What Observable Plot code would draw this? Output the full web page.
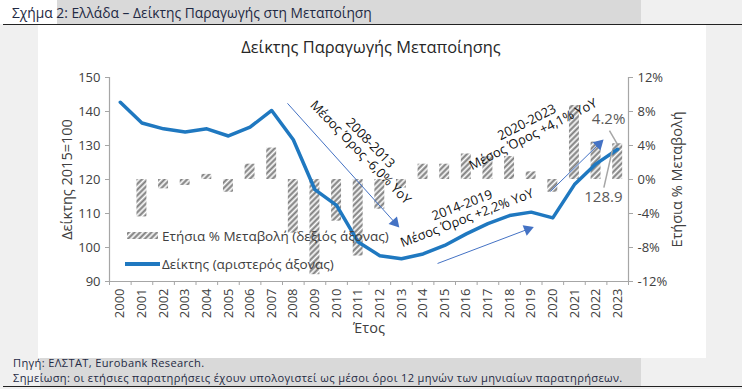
<!DOCTYPE html>
<html><head><meta charset="utf-8">
<script src="https://cdn.jsdelivr.net/npm/d3@7"></script>
<script src="https://cdn.jsdelivr.net/npm/@observablehq/plot@0.6"></script>
<style>
body{margin:0;font-family:"Open Sans",sans-serif;}
#root{position:relative;width:742px;height:389px;overflow:hidden;background:#f0f0f0;}
.abs{position:absolute;}
.lg{position:absolute;font-size:13.5px;color:#404040;white-space:nowrap;line-height:16px;}
.ft{position:absolute;left:13px;font-size:11.1px;letter-spacing:0.35px;line-height:14px;color:#1f2a44;white-space:nowrap;}
</style></head><body>
<svg width="0" height="0" style="position:absolute"><defs>
<pattern id="hatch" patternUnits="userSpaceOnUse" width="4" height="4" patternTransform="rotate(45)">
<rect width="4" height="4" fill="#ffffff"/><line x1="1.5" y1="0" x2="1.5" y2="4" stroke="#7a7a7a" stroke-width="2.1"/>
</pattern></defs></svg>
<div id="root">
 <div class="abs" style="left:0;top:0;width:57px;height:24px;background:#ffffff"></div>
 <div class="abs" style="left:57px;top:0;width:584px;height:24px;background:#d9d9d9"></div>
 <div class="abs" style="left:3px;top:24px;width:739px;height:1px;background:#222"></div>
 <div class="abs" style="left:12px;top:3px;font-size:13.8px;color:#1f2a44;white-space:nowrap">Σχήμα 2: Ελλάδα – Δείκτης Παραγωγής στη Μεταποίηση</div>
 <div class="abs" style="left:38px;top:25px;width:668px;height:333px;background:#ffffff"></div>
 <div class="abs" style="left:40px;top:358px;width:601px;height:28px;background:#d9d9d9"></div>
 <div class="abs" style="left:3px;top:386px;width:739px;height:1px;background:#222"></div>
 <div class="ft" style="top:356px">Πηγή: ΕΛΣΤΑΤ, Eurobank Research.</div>
 <div class="ft" style="top:371px">Σημείωση: οι ετήσιες παρατηρήσεις έχουν υπολογιστεί ως μέσοι όροι 12 μηνών των μηνιαίων παρατηρήσεων.</div>
 <div class="abs" style="left:0;top:35px;width:742px;text-align:center;font-size:16.4px;color:#262626;">Δείκτης Παραγωγής Μεταποίησης</div>
 <div id="chart" class="abs" style="left:0;top:25px"></div>
 <svg class="abs" style="left:127px;top:232px" width="31" height="7"><rect width="31" height="7" fill="url(#hatch)"/></svg>
 <div class="lg" style="left:162px;top:228px">Ετήσια % Μεταβολή (δεξιός άξονας)</div>
 <div class="abs" style="left:125px;top:262px;width:35px;height:3.5px;background:#1f78c0"></div>
 <div class="lg" style="left:162px;top:256px">Δείκτης (αριστερός άξονας)</div>
</div>
<script>
const years = [2000,2001,2002,2003,2004,2005,2006,2007,2008,2009,2010,2011,2012,2013,2014,2015,2016,2017,2018,2019,2020,2021,2022,2023];
const indexValues = [142.7,136.6,134.9,134.0,134.9,132.8,135.4,140.3,131.7,117.0,112.4,101.6,97.6,96.7,98.1,100.6,104.0,107.0,109.4,110.4,108.7,118.5,124.6,128.9];
const yoyValues = [null,-4.4,-1.1,-0.7,0.6,-1.5,1.8,3.7,-6.3,-11.2,-4.9,-9.0,-3.5,-1.0,1.8,1.8,3.0,2.7,2.7,0.9,-1.5,8.7,4.4,4.2];
const leftTicks = [90,100,110,120,130,140,150];
const rightTicks = [-12,-8,-4,0,4,8,12];
const leftDomain = [90,150];
const rightDomain = [-12,12];
const yearDomain = [1999.5,2023.5];
const annotations = [
  {x: 2011.34, y: 129.4, rotate: 46, text: "2008-2013\nΜέσος Όρος -6,0% YoY"},
  {x: 2015.92, y: 110.6, rotate: -21, text: "2014-2019\nΜέσος Όρος +2,2% YoY"},
  {x: 2018.94, y: 135.1, rotate: -27, text: "2020-2023\nΜέσος Όρος +4,1% YoY"}
];
const arrows = [
  {x1: 2007.73, y1: 142.4, x2: 2012.70, y2: 107.3, angle: 138},
  {x1: 2014.67, y1: 95.3, x2: 2018.84, y2: 105.35, angle: 69},
  {x1: 2019.89, y1: 116.5, x2: 2022.13, y2: 130.4, angle: 46}
];
const callouts = [
  {x: 2022.58, y: 137.6, text: "4.2%", lx1: 2022.62, ly1: 134.4, lx2: 2022.99, ly2: 130.3},
  {x: 2022.34, y: 114.7, text: "128.9", lx1: 2022.36, ly1: 117.6, lx2: 2022.75, ly2: 128.5}
];

// map right-axis % onto left-axis units
const k = (leftDomain[1]-leftDomain[0])/(rightDomain[1]-rightDomain[0]);
const mid = (leftDomain[0]+leftDomain[1])/2;
const toLeft = p => mid + p*k;

const lineData = years.map((y,i)=>({year:y, v:indexValues[i]}));
const barData = years.map((y,i)=>({year:y, p:yoyValues[i]})).filter(d=>d.p!=null);
const boundaries = years.map(y=>y-0.5).concat([years[years.length-1]+0.5]);

const plot = Plot.plot({
  width: 742, height: 333,
  marginTop: 52, marginBottom: 77, marginLeft: 109, marginRight: 114,
  style: {background:"transparent", fontFamily:"Open Sans, sans-serif"},
  x: {domain: yearDomain, axis: null},
  y: {domain: leftDomain, axis: null},
  marks: [
    Plot.rect(barData, {x1: d=>d.year-0.23, x2: d=>d.year+0.23, y1: toLeft(0), y2: d=>toLeft(d.p), fill: "url(#hatch)"}),
    Plot.ruleY([leftDomain[0]], {stroke:"#a6a6a6", strokeWidth:1.2}),
    Plot.ruleX(yearDomain, {stroke:"#a6a6a6", strokeWidth:1.2}),
    Plot.axisY(leftTicks, {anchor:"left", tickSize:4, tickPadding:5, stroke:"#a6a6a6", fill:"#404040", fontSize:13, label:null}),
    Plot.axisY(rightTicks.map(toLeft), {anchor:"right", tickSize:4, tickPadding:5, stroke:"#a6a6a6", fill:"#404040", fontSize:13, label:null,
      tickFormat: d => `${Math.round((d-mid)/k)}%`}),
    Plot.axisX(years, {anchor:"bottom", tickSize:0, tickPadding:7, tickRotate:-90, fill:"#404040", fontSize:13, label:null, tickFormat: d=>String(d)}),
    Plot.axisX(boundaries, {anchor:"bottom", tickSize:4, stroke:"#a6a6a6", tickFormat: ()=>"", label:null}),
    Plot.text(["Δείκτης 2015=100"], {frameAnchor:"left", dx:-42, rotate:-90, textAnchor:"middle", lineAnchor:"middle", fontSize:14.5, fill:"#404040"}),
    Plot.text(["Ετήσια % Μεταβολή"], {frameAnchor:"right", dx:49, rotate:-90, textAnchor:"middle", lineAnchor:"middle", fontSize:14.5, fill:"#404040"}),
    Plot.text(["Έτος"], {frameAnchor:"bottom", dy:47, lineAnchor:"middle", fontSize:14.5, fill:"#404040"}),
    Plot.line(lineData, {x:"year", y:"v", stroke:"#1f78c0", strokeWidth:3.5, strokeLinejoin:"round"}),
    Plot.link(arrows, {x1:"x1", y1:"y1", x2:"x2", y2:"y2", stroke:"#4472c4", strokeWidth:1}),
    Plot.dot(arrows, {x:"x2", y:"y2", symbol:"triangle", r:4.2, rotate:"angle", fill:"#4472c4", stroke:"none"}),
    Plot.text(annotations, {x:"x", y:"y", text:"text", rotate:"rotate", fontSize:13, fill:"#111", lineHeight:1.05, textAnchor:"middle", lineAnchor:"middle"}),
    Plot.link(callouts, {x1:"lx1", y1:"ly1", x2:"lx2", y2:"ly2", stroke:"#a6a6a6", strokeWidth:1.5}),
    Plot.text(callouts, {x:"x", y:"y", text:"text", fontSize:15, fill:"#595959"})
  ]
});
document.getElementById("chart").appendChild(plot);
</script>
</body></html>
